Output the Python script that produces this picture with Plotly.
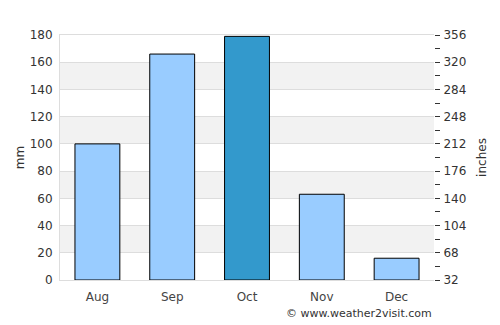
import plotly.graph_objects as go

months = ["Aug", "Sep", "Oct", "Nov", "Dec"]
rain_mm = [100, 166, 179, 63, 16]
bar_colors = ["#99ccff", "#99ccff", "#3399cc", "#99ccff", "#99ccff"]
left_ticks = [0, 20, 40, 60, 80, 100, 120, 140, 160, 180]
right_ticks = [32, 68, 104, 140, 176, 212, 248, 284, 320, 356]

font = "DejaVu Sans, Verdana, sans-serif"

fig = go.Figure()
fig.add_trace(go.Bar(
    x=months, y=rain_mm, marker=dict(color=bar_colors, line=dict(color="#000000", width=1)),
    width=0.6, hoverinfo="skip", showlegend=False))
fig.add_trace(go.Scatter(x=[months[0]], y=[right_ticks[0]], yaxis="y2", mode="markers",
                         marker=dict(opacity=0), showlegend=False, hoverinfo="skip"))

for i in range(1, len(left_ticks) - 1, 2):
    fig.add_shape(type="rect", xref="paper", yref="y", x0=0, x1=1,
                  y0=left_ticks[i], y1=left_ticks[i + 1],
                  fillcolor="#f2f2f2", line=dict(width=0), layer="below")

fig.update_layout(
    width=500, height=325,
    margin=dict(l=60, r=66, t=35, b=45),
    paper_bgcolor="white", plot_bgcolor="white",
    font=dict(family=font, size=12, color="#333333"),
    bargap=0.4,
    xaxis=dict(range=[-0.5, 4.5], showline=True, linecolor="#dddddd", linewidth=1, mirror=True,
               showgrid=False, ticks="", ticklabelstandoff=6,
               tickfont=dict(size=12, color="#444444")),
    yaxis=dict(range=[0, 180], tickvals=left_ticks, showgrid=True, gridcolor="#dddddd",
               showline=True, linecolor="#dddddd", zeroline=False, ticks="",
               ticklabelstandoff=4,
               title=dict(text="mm", font=dict(size=12, color="#333333"), standoff=2)),
    yaxis2=dict(range=[32, 356], overlaying="y", side="right", tickvals=right_ticks,
                showgrid=False, zeroline=False, showline=False,
                ticks="outside", ticklen=5, tickcolor="#333333", tickwidth=1,
                ticklabelstandoff=1,
                minor=dict(dtick=18, tick0=32, ticks="outside", ticklen=5, tickcolor="#333333", showgrid=False),
                title=dict(text="inches", font=dict(size=12, color="#333333"), standoff=12)),
    annotations=[dict(text="© www.weather2visit.com", xref="paper", yref="paper",
                      x=1.0, y=-0.135, xanchor="right", yanchor="middle", showarrow=False,
                      font=dict(size=11, color="#333333"))],
)

fig.write_html("out.html")
